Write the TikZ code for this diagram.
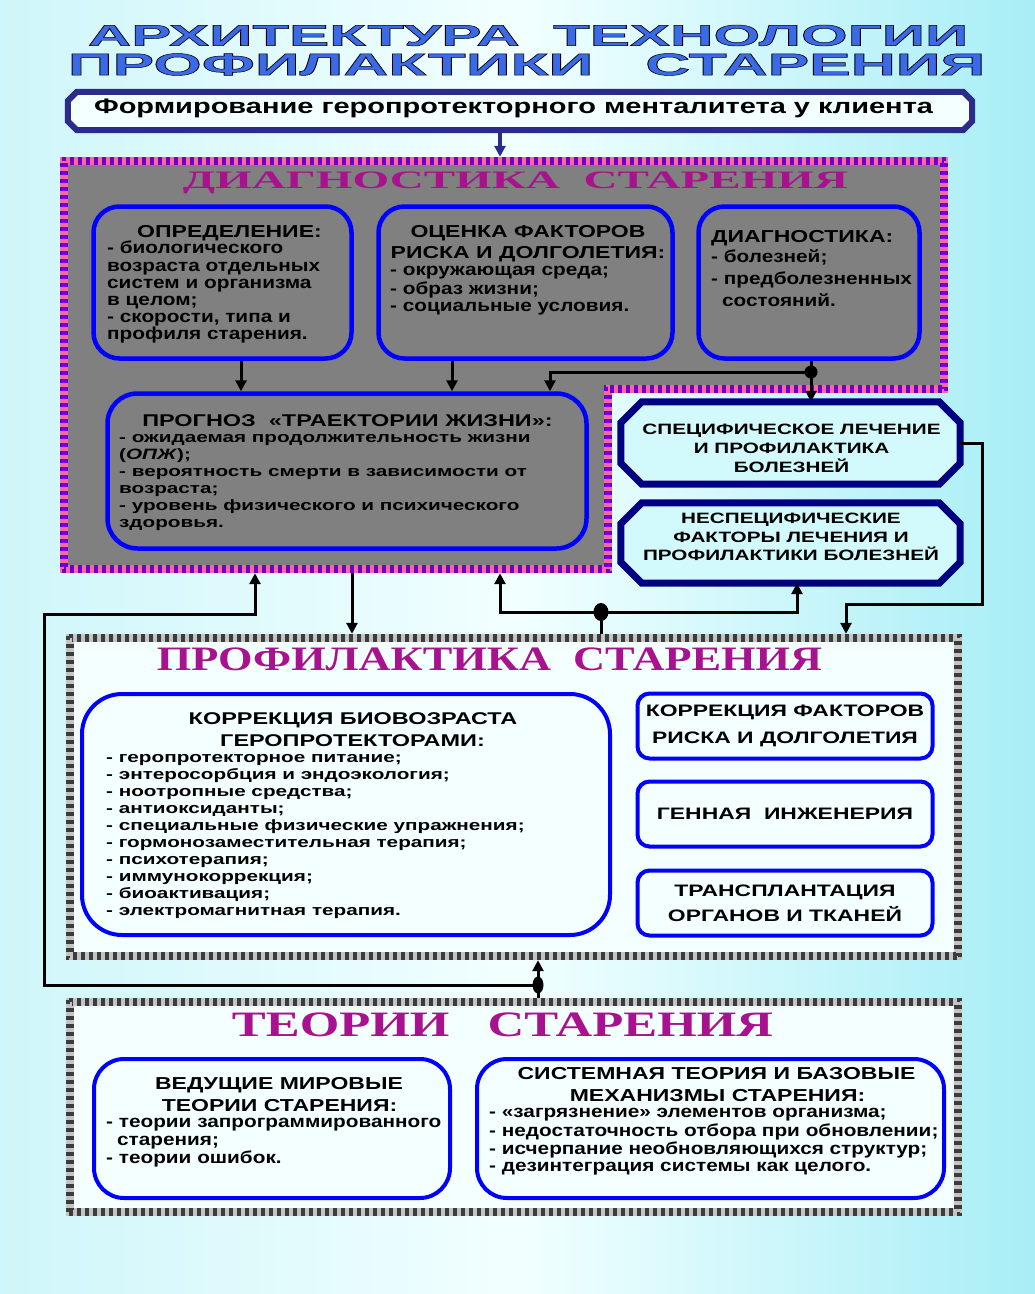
\documentclass[tikz,border=0pt]{standalone}
\usepackage{fontspec}
\setmainfont{Liberation Sans}
\newfontfamily\fN[FakeStretch=1.2]{Liberation Sans}
\newfontfamily\fNc[FakeStretch=1.33]{Liberation Sans}
\newfontfamily\fW[FakeStretch=1.38]{Liberation Sans}
\newfontfamily\fH{Liberation Serif}
\newfontfamily\fTtl[FakeBold=1.5]{Liberation Sans Bold}
\usepackage{graphicx}
\usetikzlibrary{arrows.meta,shapes.geometric}

\definecolor{bgL}{HTML}{CFF6FA}
\definecolor{bgM}{HTML}{F2FFFF}
\definecolor{bgR}{HTML}{A8EEF6}
\definecolor{navy}{HTML}{2B2B8C}
\definecolor{octnavy}{HTML}{000080}
\definecolor{bblue}{HTML}{0000FF}
\definecolor{dgray}{HTML}{808080}
\definecolor{pinkc}{HTML}{FF6699}
\definecolor{purpc}{HTML}{6A00CC}
\definecolor{lgr}{HTML}{C4C4C4}
\definecolor{dgr}{HTML}{3C3C3C}
\definecolor{octfill}{HTML}{D2FAFD}
\definecolor{wfill}{HTML}{F4FFFF}
\definecolor{hSolid}{HTML}{A8128E}
\definecolor{tBlue}{HTML}{3A6AE6}

\newcommand\TxtTA{\resizebox*{880pt}{21pt}{\fTtl АРХИТЕКТУРА\ \ ТЕХНОЛОГИИ}}
\newcommand\TxtTB{\resizebox*{917pt}{22pt}{\fTtl ПРОФИЛАКТИКИ\ \ \ СТАРЕНИЯ}}
\newcommand\TxtHD{\resizebox*{665pt}{22pt}{\fH\bfseries ДИАГНОСТИКА\ \ СТАРЕНИЯ}}
\newcommand\TxtHP{\resizebox*{665pt}{23pt}{\fH\bfseries ПРОФИЛАКТИКА\ \ СТАРЕНИЯ}}
\newcommand\TxtHT{\resizebox*{541pt}{24pt}{\fH\bfseries ТЕОРИИ\ \ \ СТАРЕНИЯ}}

\begin{document}
\begin{tikzpicture}[x=1pt,y=-1pt,
  tx/.style={inner sep=0pt, text=black},
  nf/.style={font=\fN\bfseries\fontsize{17.3}{#1}\selectfont},
  nc/.style={font=\fNc\bfseries\fontsize{17.3}{#1}\selectfont},
  wf/.style={font=\fW\bfseries\fontsize{15}{#1}\selectfont},
  gbox/.style={draw=bblue, line width=4.5pt, fill=dgray, rounded corners=26pt, inner sep=0pt},
  wbox/.style={draw=bblue, line width=4pt, fill=wfill, rounded corners=30pt, inner sep=0pt},
  octo/.style={draw=octnavy, line width=7pt, fill=octfill, line join=miter},
  hole/.style={inner sep=0pt},
  arr/.style={line width=3pt, -{Triangle[length=11pt,width=11pt]}},
  ln/.style={line width=3pt},
  dot/.style={fill=black, inner sep=0pt, ellipse}]

% background
\useasboundingbox (0,0) rectangle (1035,1294);
\shade[left color=bgL, right color=bgR, middle color=bgM] (0,0) rectangle (1035,1294);

% title
\node[inner sep=0pt, text=tBlue] (ta) at (528,35.5) {\pgfsetstrokecolor{black}\TxtTA};
\node[inner sep=0pt, text=tBlue] (tb) at (526.5,64.5) {\pgfsetstrokecolor{black}\TxtTB};

% top box
\node[hole, minimum width=904pt, minimum height=38pt] (tbox) at (520,111) {};
\draw[draw=navy, line width=6pt, fill=wfill, line join=miter]
  ([xshift=9pt]tbox.north west) -- ([xshift=-9pt]tbox.north east) -- ([yshift=-9pt]tbox.north east)
  -- ([yshift=9pt]tbox.south east) -- ([xshift=-9pt]tbox.south east) -- ([xshift=9pt]tbox.south west)
  -- ([yshift=9pt]tbox.south west) -- ([yshift=-9pt]tbox.north west) -- cycle;
\node[tx, font=\fW\bfseries\fontsize{21}{24}\selectfont] (ttxt) at (513.5,108) {Формирование геропротекторного менталитета у клиента};

% diagnostics frame
\node[hole, minimum width=888pt, minimum height=416pt] (dg) at (504,365) {};
\fill[dgray] (64,161) -- (944,161) -- (944,389) -- (608,389) -- (608,569) -- (64,569) -- cycle;
\draw[pinkc, line width=8pt, line join=miter] (64,161) -- (944,161) -- (944,389) -- (608,389) -- (608,569) -- (64,569) -- cycle;
\draw[purpc, line width=4pt, dash pattern=on 4pt off 4pt, line join=miter] (62,159) -- (946,159) -- (946,391) -- (610,391) -- (610,571) -- (62,571) -- cycle;
\draw[purpc, line width=4pt, dash pattern=on 4pt off 4pt, dash phase=4pt, line join=miter] (66,163) -- (942,163) -- (942,387) -- (606,387) -- (606,567) -- (66,567) -- cycle;

\node[inner sep=0pt, text=hSolid] (hd) at (515.5,183) {\TxtHD};

% diagnostics boxes
\node[gbox, minimum width=258pt, minimum height=152pt] (b1) at (222.5,282.5) {};
\node[gbox, minimum width=294pt, minimum height=152pt] (b2) at (525.5,282.5) {};
\node[gbox, minimum width=221pt, minimum height=152pt] (b3) at (809,282.5) {};
\node[gbox, rounded corners=30pt, minimum width=479pt, minimum height=155pt] (pr) at (347,471) {};

\node[tx, nc=17.2, anchor=base] (b1t) at (229.5,237) {ОПРЕДЕЛЕНИЕ:};
\node[tx, nf=17.2, anchor=north west, align=left] (b1l) at (107,241) {\strut- биологического\\возраста отдельных\\систем и организма\\в целом;\\- скорости, типа и\\профиля старения.};

\node[tx, nc=17.2, anchor=base] (b2t1) at (528,237) {ОЦЕНКА ФАКТОРОВ};
\node[tx, nc=17.2, anchor=base] (b2t2) at (528,258) {РИСКА И ДОЛГОЛЕТИЯ:};
\node[tx, nf=17.5, anchor=north west, align=left] (b2l) at (390,263) {\strut- окружающая среда;\\- образ жизни;\\- социальные условия.};

\node[tx, nc=17.2, anchor=base west] (b3t) at (711,242) {ДИАГНОСТИКА:};
\node[tx, nf=21.7, anchor=north west, align=left] (b3l) at (711,247.5) {\strut- болезней;\\- предболезненных\\\hspace*{11pt}состояний.};

\node[tx, font=\fW\bfseries\fontsize{17}{17}\selectfont, anchor=base] (prt) at (347.5,426) {ПРОГНОЗ\ \ «ТРАЕКТОРИИ ЖИЗНИ»:};
\node[tx, wf=17, anchor=north west, align=left] (prl) at (119,430) {\strut- ожидаемая продолжительность жизни\\(\textit{ОПЖ});\\- вероятность смерти в зависимости от\\возраста;\\- уровень физического и психического\\здоровья.};

% arrows inside diagnostics
\node[dot, minimum width=13pt, minimum height=13pt] (d1) at (811,372) {};
\node[hole, minimum width=339pt, minimum height=82pt] (spec) at (790.5,443) {};
\node[hole, minimum width=339pt, minimum height=80pt] (nsp) at (790.5,543) {};
\draw[arr] ([xshift=18.5pt]b1.south) -- ([xshift=18.5pt]b1.south |- pr.north);
\draw[arr] ([xshift=-73.5pt]b2.south) -- ([xshift=-73.5pt]b2.south |- pr.north);
\draw[ln] ([xshift=2pt]b3.south) -- (d1.center);
\draw[arr] (d1.center) -- (d1 |- spec.north);
\draw[arr] (d1.center) -| ([xshift=203pt]pr.north);

% chamfered boxes
\draw[octo] ([xshift=21pt]spec.north west) -- ([xshift=-21pt]spec.north east) -- ([yshift=-21pt]spec.north east)
  -- ([yshift=21pt]spec.south east) -- ([xshift=-21pt]spec.south east) -- ([xshift=21pt]spec.south west)
  -- ([yshift=21pt]spec.south west) -- ([yshift=-21pt]spec.north west) -- cycle;
\draw[octo] ([xshift=21pt]nsp.north west) -- ([xshift=-21pt]nsp.north east) -- ([yshift=-21pt]nsp.north east)
  -- ([yshift=21pt]nsp.south east) -- ([xshift=-21pt]nsp.south east) -- ([xshift=21pt]nsp.south west)
  -- ([yshift=21pt]nsp.south west) -- ([yshift=-21pt]nsp.north west) -- cycle;
\node[tx, wf=19, anchor=north, align=center] (spect) at (791.5,421) {\strut СПЕЦИФИЧЕСКОЕ ЛЕЧЕНИЕ\\И ПРОФИЛАКТИКА\\БОЛЕЗНЕЙ};
\node[tx, wf=18.5, anchor=north, align=center] (nspt) at (791,510.5) {\strut НЕСПЕЦИФИЧЕСКИЕ\\ФАКТОРЫ ЛЕЧЕНИЯ И\\ПРОФИЛАКТИКИ БОЛЕЗНЕЙ};

% prophylaxis frame
\node[hole, fill=wfill, minimum width=888pt, minimum height=318pt] (prof) at (514,797) {};
\draw[lgr, line width=8pt] (prof.north west) rectangle (prof.south east);
\draw[dgr, line width=4pt, dash pattern=on 4pt off 4pt] ([shift={(-2pt,2pt)}]prof.north west) rectangle ([shift={(2pt,-2pt)}]prof.south east);
\draw[dgr, line width=4pt, dash pattern=on 4pt off 4pt, dash phase=4pt] ([shift={(2pt,-2pt)}]prof.north west) rectangle ([shift={(-2pt,2pt)}]prof.south east);

\node[inner sep=0pt, text=hSolid] (hp) at (489.5,659.5) {\TxtHP};

\node[wbox, rounded corners=40pt, minimum width=528pt, minimum height=241pt] (cb) at (346,814.5) {};
\node[tx, font=\fW\bfseries\fontsize{17}{17}\selectfont, anchor=base] (cbt1) at (353,724) {КОРРЕКЦИЯ БИОВОЗРАСТА};
\node[tx, font=\fW\bfseries\fontsize{17}{17}\selectfont, anchor=base] (cbt2) at (352.5,746) {ГЕРОПРОТЕКТОРАМИ:};
\node[tx, wf=17, anchor=north west, align=left] (cbl) at (106,750) {\strut- геропротекторное питание;\\- энтеросорбция и эндоэкология;\\- ноотропные средства;\\- антиоксиданты;\\- специальные физические упражнения;\\- гормонозаместительная терапия;\\- психотерапия;\\- иммунокоррекция;\\- биоактивация;\\- электромагнитная терапия.};

\node[wbox, rounded corners=12pt, minimum width=295pt, minimum height=65pt, align=center,
  font=\fW\bfseries\fontsize{16.6}{27}\selectfont] (rk) at (785,726) {КОРРЕКЦИЯ ФАКТОРОВ\\РИСКА И ДОЛГОЛЕТИЯ};
\node[wbox, rounded corners=12pt, minimum width=295pt, minimum height=65pt,
  font=\fW\bfseries\fontsize{16.6}{27}\selectfont] (gen) at (785,814) {ГЕННАЯ\ \ ИНЖЕНЕРИЯ};
\node[wbox, rounded corners=12pt, minimum width=295pt, minimum height=65pt, align=center,
  font=\fW\bfseries\fontsize{16.6}{25}\selectfont] (trn) at (785,903) {ТРАНСПЛАНТАЦИЯ\\ОРГАНОВ И ТКАНЕЙ};

% theories frame
\node[hole, fill=wfill, minimum width=888pt, minimum height=210pt] (th) at (514,1107) {};
\draw[lgr, line width=8pt] (th.north west) rectangle (th.south east);
\draw[dgr, line width=4pt, dash pattern=on 4pt off 4pt] ([shift={(-2pt,2pt)}]th.north west) rectangle ([shift={(2pt,-2pt)}]th.south east);
\draw[dgr, line width=4pt, dash pattern=on 4pt off 4pt, dash phase=4pt] ([shift={(2pt,-2pt)}]th.north west) rectangle ([shift={(-2pt,2pt)}]th.south east);

\node[inner sep=0pt, text=hSolid] (ht) at (502.5,1025) {\TxtHT};

\node[wbox, minimum width=356pt, minimum height=139pt] (tl) at (272,1128.5) {};
\node[wbox, minimum width=467pt, minimum height=139pt] (tr) at (710.5,1128.5) {};
\node[tx, nc=18, anchor=base] (tlt1) at (279,1089) {ВЕДУЩИЕ МИРОВЫЕ};
\node[tx, nc=18, anchor=base] (tlt2) at (279.5,1111) {ТЕОРИИ СТАРЕНИЯ:};
\node[tx, nf=18, anchor=north west, align=left] (tll) at (106,1115) {\strut- теории запрограммированного\\\hspace*{11pt}старения;\\- теории ошибок.};
\node[tx, nc=17.3, anchor=base] (trt1) at (716.5,1079) {СИСТЕМНАЯ ТЕОРИЯ И БАЗОВЫЕ};
\node[tx, nc=17.3, anchor=base] (trt2) at (717.5,1101) {МЕХАНИЗМЫ СТАРЕНИЯ:};
\node[tx, nf=17.3, anchor=north west, align=left] (trl) at (489,1105.5) {\strut- «загрязнение» элементов организма;\\- недостаточность отбора при обновлении;\\- исчерпание необновляющихся структур;\\- дезинтеграция системы как целого.};

% connectors
\coordinate (pfN) at ([yshift=4pt]prof.north);
\coordinate (pfS) at ([yshift=-4pt]prof.south);
\coordinate (thN) at ([yshift=4pt]th.north);
\coordinate (rc) at (982,604);
\coordinate (lc) at (44,614);
\draw[arr, navy, line width=4pt] ([xshift=-20pt]tbox.south) -- ([xshift=-20pt]tbox.south |- dg.north);
\draw[arr] (spec.east) -| (rc) -| ([xshift=332pt]pfN);
\draw[arr] ([xshift=-152pt]dg.south) -- ([xshift=-152pt]dg.south |- pfN);
\node[dot, minimum width=15pt, minimum height=18pt] (d2) at (601,612) {};
\draw[ln] (d2.center) -- (d2 |- pfN);
\draw[arr] (d2.center) -| ([xshift=-4pt]dg.south);
\draw[arr] (d2.center) -| ([xshift=6.5pt]nsp.south);
\node[dot, minimum width=11pt, minimum height=17pt] (d3) at (538,985) {};
\draw[ln] (d3.center) -- (d3 |- thN);
\draw[arr] (d3.center) -- (d3 |- pfS);
\draw[arr] (d3.center) -| (lc) -| ([xshift=-249pt]dg.south);
\end{tikzpicture}
\end{document}
